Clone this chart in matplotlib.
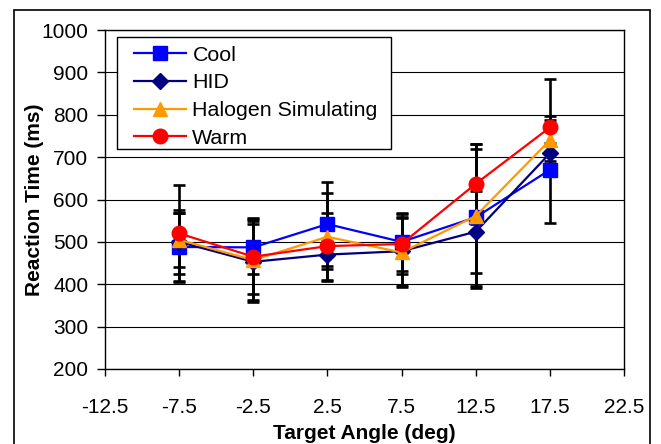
import matplotlib
matplotlib.use("Agg")
import matplotlib.pyplot as plt
from matplotlib.patches import Rectangle

# data
angles = [-7.5, -2.5, 2.5, 7.5, 12.5, 17.5]
cool = [488, 487, 542, 500, 558, 670]
cool_err = [81, 63, 99, 69, 162, 126]
hid = [500, 453, 470, 478, 524, 709]
hid_err = [75, 90, 33, 80, 97, 25]
halogen = [505, 457, 512, 475, 561, 740]
halogen_err = [64, 100, 104, 82, 170, 48]
warm = [520, 465, 490, 495, 637, 770]
warm_err = [114, 89, 79, 70, 94, 114]

x_ticks = [-12.5, -7.5, -2.5, 2.5, 7.5, 12.5, 17.5, 22.5]
y_ticks = list(range(200, 1001, 100))

plt.rcParams['font.family'] = ['Liberation Sans', 'DejaVu Sans']

fig = plt.figure(figsize=(6.61, 4.44), dpi=100)
ax = fig.add_axes([105 / 661, 1 - 369 / 444, 519 / 661, 339 / 444])

# outer chart border
fig.patches.append(Rectangle((14 / 661, -0.05), 636 / 661, 1.05 - 10 / 444,
                             transform=fig.transFigure, fill=False,
                             edgecolor='black', linewidth=1.2))

series = [
    ("Cool", cool, cool_err, '#0000FF', 's', 9.5),
    ("HID", hid, hid_err, '#000080', 'D', 8),
    ("Halogen Simulating", halogen, halogen_err, '#FF9900', '^', 10.5),
    ("Warm", warm, warm_err, '#FF0000', 'o', 10.5),
]

for name, vals, errs, color, marker, ms in series:
    ax.errorbar(angles, vals, yerr=errs, fmt='none', ecolor='black',
                elinewidth=1.9, capsize=4, capthick=1.9, zorder=2)

for name, vals, errs, color, marker, ms in series:
    ax.plot(angles, vals, color=color, marker=marker, markersize=ms,
            linewidth=1.6, label=name, zorder=3)

ax.set_xlim(-12.5, 22.5)
ax.set_ylim(200, 1000)
ax.set_xticks(x_ticks)
ax.set_xticklabels([f"{t:g}" for t in x_ticks], fontsize=15)
ax.set_yticks(y_ticks)
ax.set_yticklabels([str(t) for t in y_ticks], fontsize=15)
ax.tick_params(axis='both', direction='out', length=6, width=1, color='black')
ax.tick_params(axis='x', length=5, pad=16)
ax.tick_params(axis='y', pad=6)
ax.grid(axis='y', color='black', linewidth=0.8)
ax.set_axisbelow(True)
for sp in ax.spines.values():
    sp.set_color('black')
    sp.set_linewidth(1)

ax.set_xlabel("Target Angle (deg)", fontsize=15, fontweight='bold', labelpad=5)
ax.set_ylabel("Reaction Time (ms)", fontsize=15, fontweight='bold', labelpad=-2)

# legend box drawn by hand so the entries can sit inside it like the original
ax.add_patch(Rectangle((0.0231, 0.649), 0.5274, 0.331, transform=ax.transAxes,
                       facecolor='white', edgecolor='black', linewidth=1,
                       zorder=4.5))
leg = ax.legend(loc='upper left', bbox_to_anchor=(0.0559, 0.954), borderaxespad=0,
                fontsize=15.4, frameon=False, handlelength=2.45,
                handletextpad=0.28, labelspacing=0.41, borderpad=0)

fig.savefig("out.png", dpi=100)
